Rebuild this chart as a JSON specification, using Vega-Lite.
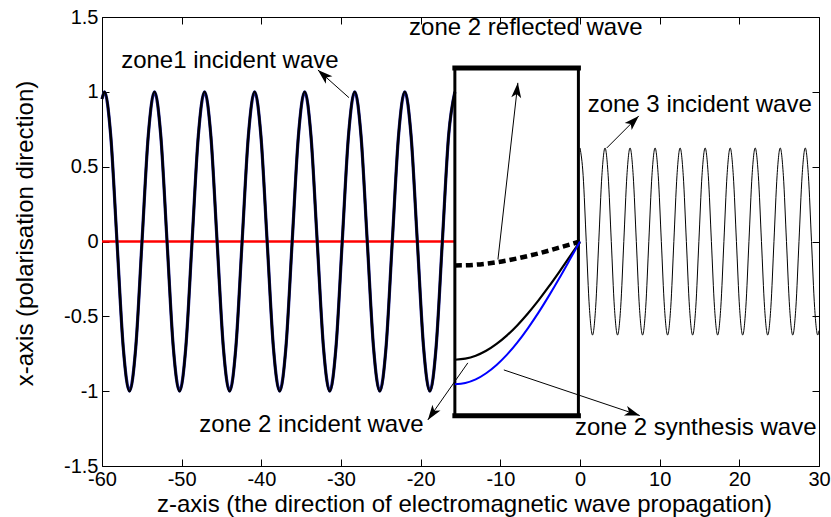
{
  "$schema": "https://vega.github.io/schema/vega-lite/v6.json",
  "width": 717,
  "height": 449,
  "autosize": {"type": "none"},
  "padding": {"left": 102, "top": 17, "right": 12, "bottom": 51},
  "background": "white",
  "config": {
    "view": {"stroke": "#000", "strokeWidth": 1},
    "font": "Liberation Sans",
    "axis": {
      "grid": false,
      "domain": false,
      "tickColor": "#000",
      "tickSize": -7,
      "tickWidth": 1,
      "labelColor": "#000",
      "labelFont": "Liberation Sans",
      "labelFontSize": 20,
      "labelFlush": false,
      "labelOverlap": false,
      "labelPadding": 11,
      "titleColor": "#000",
      "titleFont": "Liberation Sans",
      "titleFontSize": 24,
      "titleFontWeight": "normal"
    }
  },
  "datasets": {
    "red": [{"z": -60, "y": 0}, {"z": -15.708, "y": 0}],
    "z1": [
      {"z": -60, "y": 0.952}, {"z": -59.69, "y": 1}, {"z": -58.905, "y": 0.707}, {"z": -58.119, "y": 0}, {"z": -57.334, "y": -0.707}, {"z": -56.549, "y": -1}, {"z": -55.763, "y": -0.707}, {"z": -54.978, "y": 0}, {"z": -54.193, "y": 0.707},
      {"z": -53.407, "y": 1}, {"z": -52.622, "y": 0.707}, {"z": -51.836, "y": 0}, {"z": -51.051, "y": -0.707}, {"z": -50.265, "y": -1}, {"z": -49.48, "y": -0.707}, {"z": -48.695, "y": 0}, {"z": -47.909, "y": 0.707},
      {"z": -47.124, "y": 1}, {"z": -46.338, "y": 0.707}, {"z": -45.553, "y": 0}, {"z": -44.768, "y": -0.707}, {"z": -43.982, "y": -1}, {"z": -43.197, "y": -0.707}, {"z": -42.412, "y": 0}, {"z": -41.626, "y": 0.707},
      {"z": -40.841, "y": 1}, {"z": -40.055, "y": 0.707}, {"z": -39.27, "y": 0}, {"z": -38.485, "y": -0.707}, {"z": -37.699, "y": -1}, {"z": -36.914, "y": -0.707}, {"z": -36.128, "y": 0}, {"z": -35.343, "y": 0.707},
      {"z": -34.558, "y": 1}, {"z": -33.772, "y": 0.707}, {"z": -32.987, "y": 0}, {"z": -32.201, "y": -0.707}, {"z": -31.416, "y": -1}, {"z": -30.631, "y": -0.707}, {"z": -29.845, "y": 0}, {"z": -29.06, "y": 0.707},
      {"z": -28.274, "y": 1}, {"z": -27.489, "y": 0.707}, {"z": -26.704, "y": 0}, {"z": -25.918, "y": -0.707}, {"z": -25.133, "y": -1}, {"z": -24.347, "y": -0.707}, {"z": -23.562, "y": 0}, {"z": -22.777, "y": 0.707},
      {"z": -21.991, "y": 1}, {"z": -21.206, "y": 0.707}, {"z": -20.42, "y": 0}, {"z": -19.635, "y": -0.707}, {"z": -18.85, "y": -1}, {"z": -18.064, "y": -0.707}, {"z": -17.279, "y": 0}, {"z": -16.493, "y": 0.707},
      {"z": -15.708, "y": 1}
    ],
    "z3": [
      {"z": 0, "y": 0.625}, {"z": 0.393, "y": 0.442}, {"z": 0.785, "y": 0}, {"z": 1.178, "y": -0.442}, {"z": 1.571, "y": -0.625}, {"z": 1.963, "y": -0.442}, {"z": 2.356, "y": 0}, {"z": 2.749, "y": 0.442},
      {"z": 3.142, "y": 0.625}, {"z": 3.534, "y": 0.442}, {"z": 3.927, "y": 0}, {"z": 4.32, "y": -0.442}, {"z": 4.712, "y": -0.625}, {"z": 5.105, "y": -0.442}, {"z": 5.498, "y": 0}, {"z": 5.89, "y": 0.442},
      {"z": 6.283, "y": 0.625}, {"z": 6.676, "y": 0.442}, {"z": 7.069, "y": 0}, {"z": 7.461, "y": -0.442}, {"z": 7.854, "y": -0.625}, {"z": 8.247, "y": -0.442}, {"z": 8.639, "y": 0}, {"z": 9.032, "y": 0.442},
      {"z": 9.425, "y": 0.625}, {"z": 9.817, "y": 0.442}, {"z": 10.21, "y": 0}, {"z": 10.603, "y": -0.442}, {"z": 10.996, "y": -0.625}, {"z": 11.388, "y": -0.442}, {"z": 11.781, "y": 0}, {"z": 12.174, "y": 0.442},
      {"z": 12.566, "y": 0.625}, {"z": 12.959, "y": 0.442}, {"z": 13.352, "y": 0}, {"z": 13.744, "y": -0.442}, {"z": 14.137, "y": -0.625}, {"z": 14.53, "y": -0.442}, {"z": 14.923, "y": 0}, {"z": 15.315, "y": 0.442},
      {"z": 15.708, "y": 0.625}, {"z": 16.101, "y": 0.442}, {"z": 16.493, "y": 0}, {"z": 16.886, "y": -0.442}, {"z": 17.279, "y": -0.625}, {"z": 17.671, "y": -0.442}, {"z": 18.064, "y": 0}, {"z": 18.457, "y": 0.442},
      {"z": 18.85, "y": 0.625}, {"z": 19.242, "y": 0.442}, {"z": 19.635, "y": 0}, {"z": 20.028, "y": -0.442}, {"z": 20.42, "y": -0.625}, {"z": 20.813, "y": -0.442}, {"z": 21.206, "y": 0}, {"z": 21.598, "y": 0.442},
      {"z": 21.991, "y": 0.625}, {"z": 22.384, "y": 0.442}, {"z": 22.777, "y": 0}, {"z": 23.169, "y": -0.442}, {"z": 23.562, "y": -0.625}, {"z": 23.955, "y": -0.442}, {"z": 24.347, "y": 0}, {"z": 24.74, "y": 0.442},
      {"z": 25.133, "y": 0.625}, {"z": 25.525, "y": 0.442}, {"z": 25.918, "y": 0}, {"z": 26.311, "y": -0.442}, {"z": 26.704, "y": -0.625}, {"z": 27.096, "y": -0.442}, {"z": 27.489, "y": 0}, {"z": 27.882, "y": 0.442},
      {"z": 28.274, "y": 0.625}, {"z": 28.667, "y": 0.442}, {"z": 29.06, "y": 0}, {"z": 29.452, "y": -0.442}, {"z": 29.845, "y": -0.625}, {"z": 30, "y": -0.595}
    ],
    "z2": [
      {"z": -15.708, "inc": -0.79, "ref": -0.16, "syn": -0.953},
      {"z": -14.399, "inc": -0.783, "ref": -0.159, "syn": -0.945},
      {"z": -13.09, "inc": -0.763, "ref": -0.155, "syn": -0.921},
      {"z": -11.781, "inc": -0.73, "ref": -0.148, "syn": -0.88},
      {"z": -10.472, "inc": -0.684, "ref": -0.139, "syn": -0.825},
      {"z": -9.163, "inc": -0.627, "ref": -0.127, "syn": -0.756},
      {"z": -7.854, "inc": -0.559, "ref": -0.113, "syn": -0.674},
      {"z": -6.545, "inc": -0.481, "ref": -0.097, "syn": -0.58},
      {"z": -5.236, "inc": -0.395, "ref": -0.08, "syn": -0.477},
      {"z": -3.927, "inc": -0.302, "ref": -0.061, "syn": -0.365},
      {"z": -2.618, "inc": -0.204, "ref": -0.041, "syn": -0.247},
      {"z": -1.309, "inc": -0.103, "ref": -0.021, "syn": -0.124},
      {"z": 0, "inc": 0, "ref": 0, "syn": 0}
    ],
    "hbox": [{"z": -15.708, "z2": -0.2, "y": 1.16}, {"z": -15.708, "z2": -0.2, "y": -1.165}],
    "vbox": [{"z": -15.708, "y": 1.16, "y2": -1.165}, {"z": -0.2, "y": 1.16, "y2": -1.165}],
    "arrows": [
      {"id": 1, "z": -29.0, "y": 0.961}, {"id": 1, "z": -32.9, "y": 1.146},
      {"id": 2, "z": -10.3, "y": -0.12}, {"id": 2, "z": -7.8, "y": 1.06},
      {"id": 3, "z": 3.36, "y": 0.625}, {"id": 3, "z": 7.38, "y": 0.839},
      {"id": 4, "z": -14.08, "y": -0.811}, {"id": 4, "z": -19.1, "y": -1.192},
      {"id": 5, "z": -9.56, "y": -0.858}, {"id": 5, "z": 7.5, "y": -1.163}
    ],
    "heads": [
      {"z": -32.9, "y": 1.146, "dir": 311.8},
      {"z": -7.8, "y": 1.06, "dir": 6.2},
      {"z": 7.38, "y": 0.839, "dir": 45},
      {"z": -19.1, "y": -1.192, "dir": 215.1},
      {"z": 7.5, "y": -1.163, "dir": 108.6}
    ],
    "labels": [
      {"t": "zone1 incident wave", "z": -43.95, "y": 1.157},
      {"t": "zone 2 reflected wave", "z": -6.8, "y": 1.38},
      {"t": "zone 3 incident wave", "z": 15.03, "y": 0.867},
      {"t": "zone 2 incident wave", "z": -33.71, "y": -1.27},
      {"t": "zone 2 synthesis wave", "z": 14.53, "y": -1.292}
    ]
  },
  "encoding": {
    "x": {"field": "z", "type": "quantitative", "scale": {"domain": [-60, 30], "nice": false, "zero": false}, "axis": null},
    "y": {"field": "y", "type": "quantitative", "scale": {"domain": [-1.5, 1.5], "nice": false, "zero": false}, "axis": null}
  },
  "layer": [
    {
      "data": {"name": "z3"},
      "mark": {"type": "line", "color": "#000", "strokeWidth": 1, "interpolate": "monotone"},
      "encoding": {
        "x": {"field": "z", "type": "quantitative", "scale": {"domain": [-60, 30], "nice": false, "zero": false},
          "axis": {"orient": "bottom", "values": [-60, -50, -40, -30, -20, -10, 0, 10, 20, 30], "labelExpr": "'' + datum.value", "labelPadding": 10,
            "title": "z-axis (the direction of electromagnetic wave propagation)", "titleX": 362, "titleY": 45, "titleBaseline": "alphabetic"}},
        "y": {"field": "y", "type": "quantitative", "scale": {"domain": [-1.5, 1.5], "nice": false, "zero": false},
          "axis": {"orient": "left", "values": [-1.5, -1, -0.5, 0, 0.5, 1, 1.5], "labelExpr": "'' + datum.value",
            "title": "x-axis (polarisation direction)", "titleX": -70, "titleY": 216, "titleBaseline": "alphabetic"}}
      }
    },
    {
      "data": {"name": "red"},
      "mark": {"type": "line", "color": "#ff0000", "strokeWidth": 2.5},
      "encoding": {}
    },
    {
      "data": {"name": "z1"},
      "mark": {"type": "line", "color": "#1a1a8c", "strokeWidth": 3.2, "interpolate": "monotone"},
      "encoding": {}
    },
    {
      "data": {"name": "z1"},
      "mark": {"type": "line", "color": "#000", "strokeWidth": 2.4, "interpolate": "monotone"},
      "encoding": {}
    },
    {
      "data": {"name": "hbox"},
      "mark": {"type": "rule", "color": "#000", "strokeWidth": 5, "strokeCap": "square"},
      "encoding": {"x2": {"field": "z2"}}
    },
    {
      "data": {"name": "vbox"},
      "mark": {"type": "rule", "color": "#000", "strokeWidth": 3, "strokeCap": "square"},
      "encoding": {"y2": {"field": "y2"}}
    },
    {
      "data": {"name": "z2"},
      "mark": {"type": "line", "color": "#000", "strokeWidth": 4.5, "strokeDash": [7, 4], "interpolate": "monotone"},
      "encoding": {"y": {"field": "ref", "type": "quantitative", "axis": null}}
    },
    {
      "data": {"name": "z2"},
      "mark": {"type": "line", "color": "#000", "strokeWidth": 2.2, "interpolate": "monotone"},
      "encoding": {"y": {"field": "inc", "type": "quantitative", "axis": null}}
    },
    {
      "data": {"name": "z2"},
      "mark": {"type": "line", "color": "#0000ff", "strokeWidth": 2, "interpolate": "monotone"},
      "encoding": {"y": {"field": "syn", "type": "quantitative", "axis": null}}
    },
    {
      "data": {"name": "arrows"},
      "mark": {"type": "line", "color": "#000", "strokeWidth": 1},
      "encoding": {"detail": {"field": "id"}}
    },
    {
      "data": {"name": "heads"},
      "mark": {"type": "point", "shape": "M0,0 L0.33,1 L0,0.75 L-0.33,1 Z", "size": 900, "filled": true, "color": "#000", "opacity": 1, "strokeWidth": 0},
      "encoding": {"angle": {"field": "dir", "type": "quantitative", "scale": null}}
    },
    {
      "data": {"name": "labels"},
      "mark": {"type": "text", "font": "Liberation Sans", "fontSize": 24, "align": "center", "baseline": "alphabetic", "color": "#000"},
      "encoding": {"text": {"field": "t"}}
    },
    {
      "data": {"name": "red"},
      "mark": {"type": "line", "opacity": 0},
      "encoding": {
        "x": {"field": "z", "type": "quantitative", "axis": {"orient": "top", "values": [-60, -50, -40, -30, -20, -10, 0, 10, 20, 30], "labels": false, "title": null}},
        "y": {"field": "y", "type": "quantitative", "axis": {"orient": "right", "values": [-1.5, -1, -0.5, 0, 0.5, 1, 1.5], "labels": false, "title": null}}
      }
    }
  ],
  "resolve": {"axis": {"x": "independent", "y": "independent"}}
}
